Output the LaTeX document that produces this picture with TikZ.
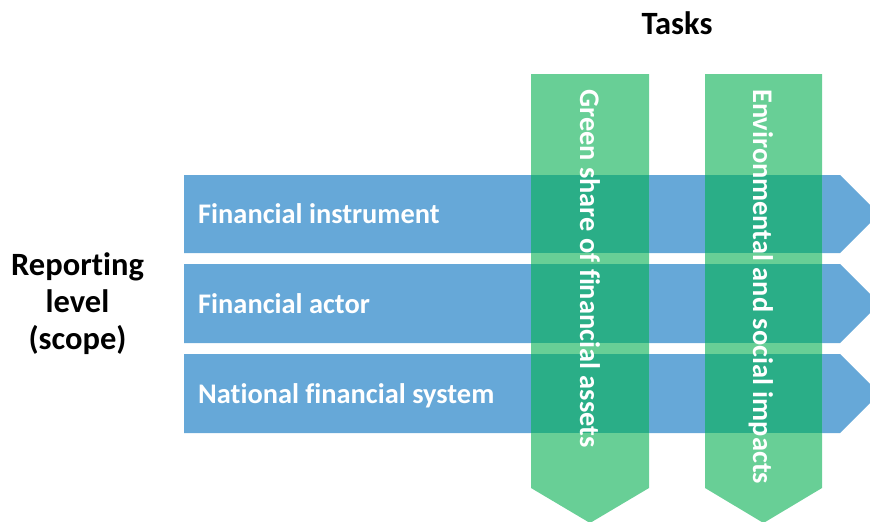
\documentclass[tikz,border=0pt]{standalone}
\usepackage{fontspec}
\setmainfont[Ligatures=NoCommon]{Carlito}
\definecolor{barblue}{HTML}{66A8D8}
\definecolor{colgreen}{HTML}{68CF96}
\definecolor{overgreen}{HTML}{2AAE87}
\begin{document}
\begin{tikzpicture}[x=1pt,y=-1pt,
  barlabel/.style={text=white,font=\bfseries\fontsize{28.4}{32}\selectfont,anchor=base west,inner sep=0pt},
  collabel/.style={text=white,font=\bfseries\fontsize{28.4}{32}\selectfont,rotate=-90,anchor=base west,inner sep=0pt},
  headlabel/.style={text=black,font=\bfseries\fontsize{32.5}{37}\selectfont,align=center,inner sep=0pt}]
\useasboundingbox (0,0) rectangle (870,522);
\clip (0,0) rectangle (870,522);
% blue bars
\foreach \t/\b in {175/253,264/343,354/433}{
  \fill[barblue] (184,\t) -- (840,\t) -- ({840+(\b-\t)/2},{(\t+\b)/2}) -- (840,\b) -- (184,\b) -- cycle;
}
% green columns
\foreach \l/\r in {531/649,705/822}{
  \fill[colgreen] (\l,74) -- (\r,74) -- (\r,488) -- ({(\l+\r)/2},523) -- (\l,488) -- cycle;
  \foreach \t/\b in {175/253,264/343,354/433}{
    \fill[overgreen] (\l,\t) rectangle (\r,\b);
  }
}
% labels
\node[barlabel] (fi) at (198,223.5) {Financial instrument};
\node[barlabel] (fa) at (198,313) {Financial actor};
\node[barlabel] (nf) at (198,403) {National financial system};
\node[collabel] (gs) at (580,89) {Green share of financial assets};
\node[collabel] (es) at (753,89) {Environmental and social impacts};
\node[headlabel] (tasks) at (677,23) {Tasks};
\node[headlabel] (rep) at (77.5,304) {Reporting\\level\\(scope)};
\end{tikzpicture}
\end{document}
